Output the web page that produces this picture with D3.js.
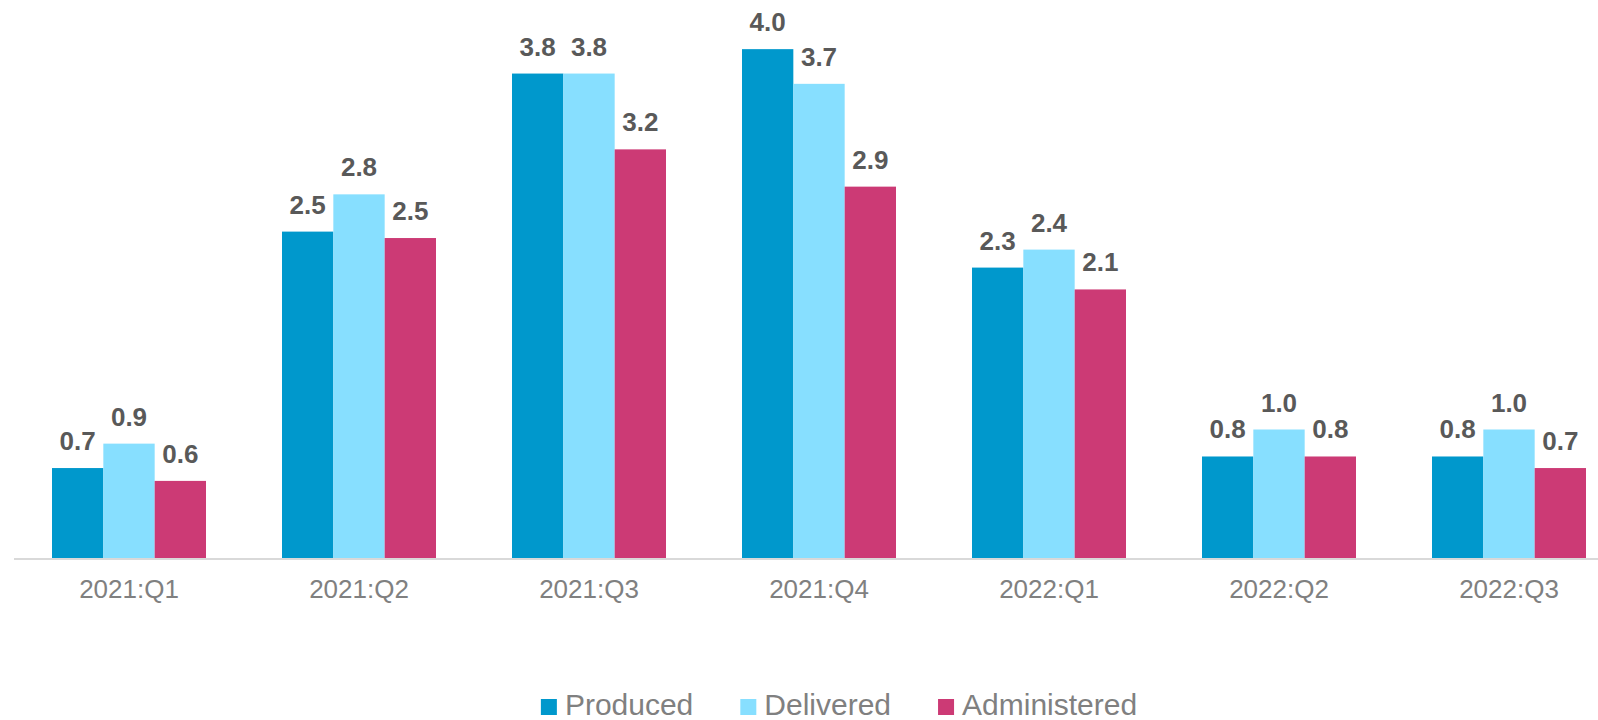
<!DOCTYPE html>
<html>
<head>
<meta charset="utf-8">
<script src="https://cdn.jsdelivr.net/npm/d3@7"></script>
<style>
  html, body { margin: 0; padding: 0; background: #ffffff; }
  svg { display: block; font-family: "Liberation Sans", Arial, sans-serif; }
</style>
</head>
<body>
<svg id="chart" width="1598" height="720"></svg>
<script>
const categories = ["2021:Q1", "2021:Q2", "2021:Q3", "2021:Q4", "2022:Q1", "2022:Q2", "2022:Q3"];
const seriesNames = ["Produced", "Delivered", "Administered"];
const produced     = [0.70, 2.54, 3.77, 3.96, 2.26, 0.79, 0.79];
const delivered    = [0.89, 2.83, 3.77, 3.69, 2.40, 1.00, 1.00];
const administered = [0.60, 2.49, 3.18, 2.89, 2.09, 0.79, 0.70];
const seriesColors = ["#0098CC", "#87DFFF", "#CC3A75"];

const seriesValues = [produced, delivered, administered];
const data = categories.map((c, i) => ({
  cat: c,
  vals: seriesNames.map((s, j) => ({ series: s, value: seriesValues[j][i] }))
}));

const svg = d3.select("#chart");
const W = 1598;
const baseY = 558;

const x0 = d3.scaleBand().domain(categories).range([14, 1624]).padding(0);
const groupW = 154;
const x1 = d3.scaleBand().domain(seriesNames)
  .range([(x0.bandwidth() - groupW) / 2, (x0.bandwidth() + groupW) / 2]).padding(0);
const y = d3.scaleLinear().domain([0, 4]).range([baseY, baseY - 514]);
const color = d3.scaleOrdinal().domain(seriesNames).range(seriesColors);
const fmt = d3.format(".1f");

const groups = svg.append("g").selectAll("g").data(data).join("g")
  .attr("transform", d => `translate(${x0(d.cat)},0)`);

groups.selectAll("rect").data(d => d.vals).join("rect")
  .attr("x", d => x1(d.series))
  .attr("y", d => y(d.value))
  .attr("width", x1.bandwidth())
  .attr("height", d => y(0) - y(d.value))
  .attr("fill", d => color(d.series));

groups.selectAll("text.val").data(d => d.vals).join("text")
  .attr("class", "val")
  .attr("x", d => x1(d.series) + x1.bandwidth() / 2)
  .attr("y", d => y(d.value) - 18)
  .attr("text-anchor", "middle")
  .attr("font-size", 26)
  .attr("font-weight", "bold")
  .attr("fill", "#595959")
  .text(d => fmt(d.value));

// baseline axis
svg.append("line")
  .attr("x1", 14).attr("x2", W)
  .attr("y1", y(0) + 1).attr("y2", y(0) + 1)
  .attr("stroke", "#D9D9D9").attr("stroke-width", 2);

// category labels
const xAxis = d3.axisBottom(x0).tickSize(0).tickPadding(0);
const axG = svg.append("g").attr("transform", `translate(0,${baseY})`).call(xAxis);
axG.select(".domain").remove();
axG.selectAll("text")
  .attr("y", 40)
  .attr("dy", 0)
  .attr("font-size", 26)
  .attr("font-family", "Liberation Sans, Arial, sans-serif")
  .attr("fill", "#808080");

// legend
const legend = svg.append("g");
const items = legend.selectAll("g").data(seriesNames).join("g");
items.append("rect").attr("width", 16).attr("height", 16).attr("y", 699)
  .attr("fill", d => color(d));
items.append("text").attr("x", 24).attr("y", 715)
  .attr("font-size", 30).attr("fill", "#808080")
  .text(d => d);
const gap = 47;
let cx = 0;
const widths = [];
items.each(function() {
  const tw = d3.select(this).select("text").node().getComputedTextLength();
  widths.push(24 + tw);
});
const total = d3.sum(widths) + gap * (widths.length - 1);
cx = 839 - total / 2;
items.each(function(d, i) {
  d3.select(this).attr("transform", `translate(${cx},0)`);
  cx += widths[i] + gap;
});
</script>
</body>
</html>
